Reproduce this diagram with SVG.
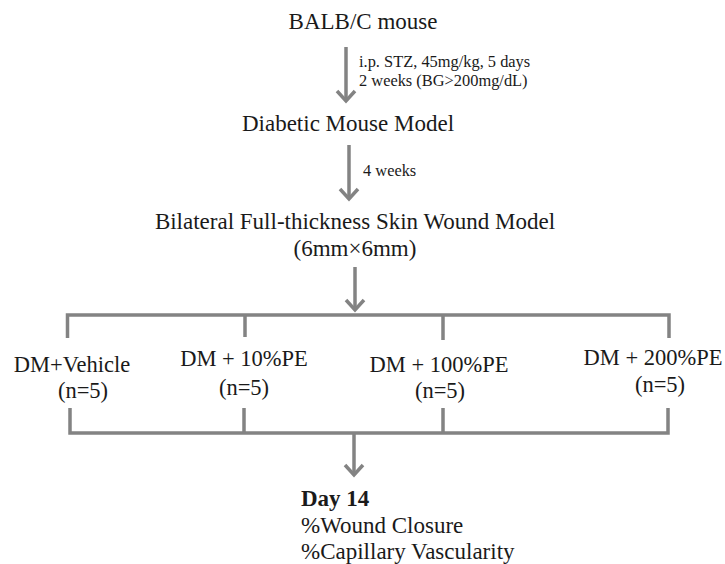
<svg xmlns="http://www.w3.org/2000/svg" width="725" height="564" viewBox="0 0 725 564">
<style>
text{font-family:"Liberation Serif","Times New Roman",serif;fill:#1a1a1a}
.big{font-size:23px}
.lab{font-size:22.5px}
.sm{font-size:16.4px}
.bold{font-weight:bold}
.ln{stroke:#838383;stroke-width:3.5;fill:none;stroke-linecap:butt}
.ah{stroke:#838383;stroke-width:3.5;fill:none;stroke-linejoin:miter}
</style>
<rect width="725" height="564" fill="#fff"/>
<g id="node-balbc"><text class="big" x="363" y="29" text-anchor="middle">BALB/C mouse</text></g>
<g id="label-stz"><text class="sm" x="359" y="67">i.p. STZ, 45mg/kg, 5 days</text><text class="sm" x="359" y="86">2 weeks (BG&gt;200mg/dL)</text></g>
<g id="node-diabetic"><text class="big" x="348" y="131" text-anchor="middle">Diabetic Mouse Model</text></g>
<g id="label-4weeks"><text class="sm" x="363" y="176">4 weeks</text></g>
<g id="node-wound"><text class="big" x="355" y="229" text-anchor="middle">Bilateral Full-thickness Skin Wound Model</text><text class="big" x="355" y="256" text-anchor="middle">(6mm×6mm)</text></g>
<g id="node-vehicle"><text class="lab" x="72" y="372" text-anchor="middle">DM+Vehicle</text><text class="lab" x="83" y="398" text-anchor="middle">(n=5)</text></g>
<g id="node-pe10"><text class="lab" x="244" y="366" text-anchor="middle">DM + 10%PE</text><text class="lab" x="244" y="395" text-anchor="middle">(n=5)</text></g>
<g id="node-pe100"><text class="lab" x="439" y="372" text-anchor="middle">DM + 100%PE</text><text class="lab" x="440" y="398" text-anchor="middle">(n=5)</text></g>
<g id="node-pe200"><text class="lab" x="653" y="365" text-anchor="middle">DM + 200%PE</text><text class="lab" x="660" y="392" text-anchor="middle">(n=5)</text></g>
<g id="node-day14"><text class="big bold" x="301" y="506">Day 14</text><text class="big" x="301" y="533">%Wound Closure</text><text class="big" x="301" y="559">%Capillary Vascularity</text></g>
<g id="connectors">
<path class="ln" d="M346 47V101"/><path class="ah" d="M337 91L346 101L355 91"/>
<path class="ln" d="M349 145V199"/><path class="ah" d="M340 189L349 199L358 189"/>
<path class="ln" d="M355 267V310"/><path class="ah" d="M346 300L355 310L364 300"/>
<path class="ln" d="M67.5 338V315H669V338"/>
<path class="ln" d="M245 315V337M443 315V340"/>
<path class="ln" d="M70 408V433H668V408"/>
<path class="ln" d="M244 408V433M443 408V433"/>
<path class="ln" d="M354 433V475"/><path class="ah" d="M345 465L354 475L363 465"/>
</g>
</svg>
